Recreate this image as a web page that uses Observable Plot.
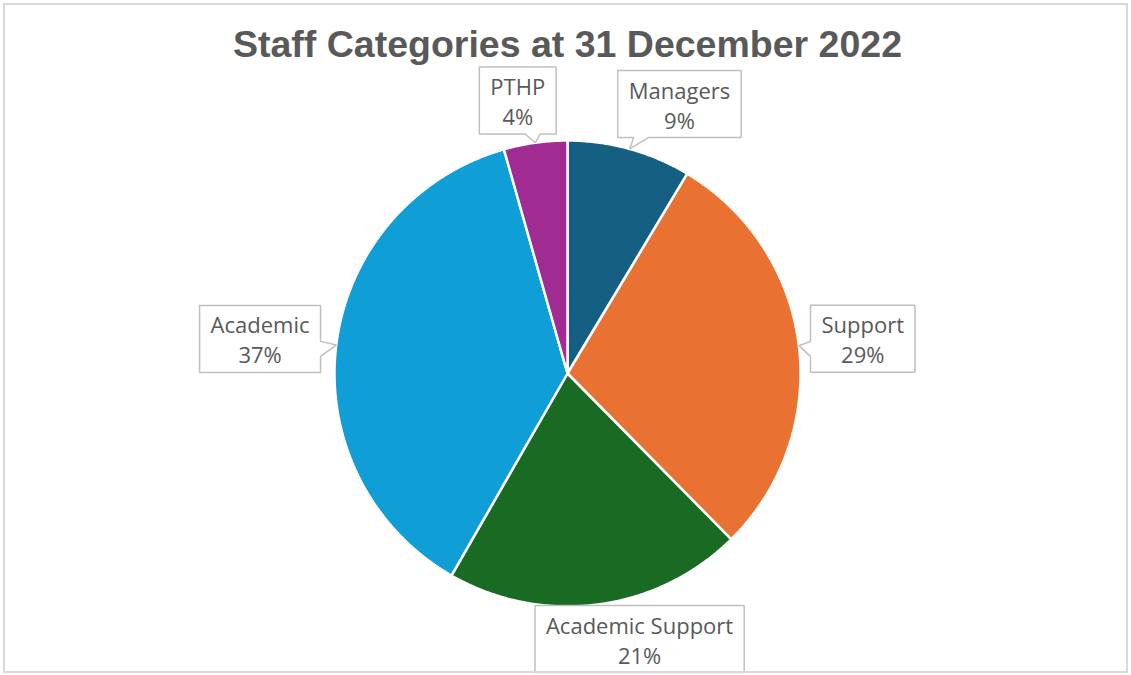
<!DOCTYPE html>
<html>
<head>
<meta charset="utf-8">
<script src="https://cdn.jsdelivr.net/npm/d3@7"></script>
<script src="https://cdn.jsdelivr.net/npm/@observablehq/plot@0.6"></script>
<style>
  body { margin: 0; background: #ffffff; }
  #frame { position: relative; width: 1131px; height: 675px; overflow: hidden; background: #ffffff; }
  #title { height: 60px; box-sizing: border-box; padding-top: 26px; padding-left: 4px; line-height: 37.5px;
           text-align: center; white-space: nowrap; font-family: "Liberation Sans", Arial, sans-serif;
           font-weight: bold; font-size: 37.5px; color: #595959; }
  #border { position: absolute; left: 3px; top: 3px; width: 1125px; height: 670px; box-sizing: border-box;
            border: 2px solid #d9d9d9; pointer-events: none; }
  svg { display: block; }
</style>
</head>
<body>
<div id="frame">
  <div id="title">Staff Categories at 31 December 2022</div>
  <div id="chart"></div>
  <div id="border"></div>
</div>
<script>
// ---- data ----
const categories = ["Managers", "Support", "Academic Support", "Academic", "PTHP"];
const shares = [8.6, 29.0, 20.7, 37.3, 4.4];   // percent of staff
const colors = ["#156082", "#E97132", "#196B24", "#0F9ED5", "#A02B93"];

// ---- layout (pixels) ----
const W = 1131, H = 615;
const R = 233;                 // pie radius in px (1 data unit)
const CX = 567, CY = 313;      // pie centre inside the svg
const labelFont = "Open Sans";
const labelSize = 22;
const lineGap = 30;
const pad = 11, boxH = 67, gap = 12;
// manual label nudges (px) mimicking the original's hand-placed callouts
const nudges = {
  "Managers": [35, 8.5],
  "Support": [-2, 1],
  "Academic Support": [36, -13],
  "Academic": [-2, 3],
  "PTHP": [-11, 5.5]
};

const total = d3.sum(shares);
const slices = [];
let acc = 0;
categories.forEach((name, i) => {
  const a0 = acc / total * 2 * Math.PI;
  acc += shares[i];
  const a1 = acc / total * 2 * Math.PI;
  slices.push({name, value: shares[i], a0, a1, mid: (a0 + a1) / 2});
});

// slice polygons in data units (radius 1, y up), angle clockwise from 12 o'clock
const slicePts = [];
for (const s of slices) {
  slicePts.push({name: s.name, x: 0, y: 0});
  const n = Math.max(2, Math.ceil((s.a1 - s.a0) / (Math.PI / 360)));
  for (let k = 0; k <= n; k++) {
    const a = s.a0 + (s.a1 - s.a0) * k / n;
    slicePts.push({name: s.name, x: Math.sin(a), y: Math.cos(a)});
  }
  slicePts.push({name: s.name, x: 0, y: 0});
}

// text measurement
const ctx = document.createElement("canvas").getContext("2d");
ctx.font = `${labelSize}px "${labelFont}"`;

function placeBox(theta, w, h) {
  const dx = Math.sin(theta), dy = -Math.cos(theta);
  let lo = 0, hi = 2000;
  for (let it = 0; it < 60; it++) {
    const t = (lo + hi) / 2;
    const cx = t * dx, cy = t * dy;
    const nx = Math.max(cx - w / 2, Math.min(0, cx + w / 2));
    const ny = Math.max(cy - h / 2, Math.min(0, cy + h / 2));
    if (Math.hypot(nx, ny) < R + gap) lo = t; else hi = t;
  }
  return [hi * dx, hi * dy];
}

const boxPts = [];
const labels = [];
for (const s of slices) {
  const pct = Math.round(s.value / total * 100) + "%";
  const tw = Math.max(ctx.measureText(s.name).width, ctx.measureText(pct).width);
  const w = tw + 2 * pad, h = boxH;
  let [cx, cy] = placeBox(s.mid, w, h);
  const nd = nudges[s.name] || [0, 0];
  cx += nd[0]; cy += nd[1];
  const x0 = cx - w / 2, x1 = cx + w / 2, y0 = cy - h / 2, y1 = cy + h / 2;
  const tx = R * Math.sin(s.mid), ty = -R * Math.cos(s.mid);
  const clamp = (v, a, b) => Math.max(a, Math.min(b, v));
  let poly;
  const far = 4;
  if (ty > y1 + far) {
    const b = clamp(tx, x0 + 16, x1 - 31);
    poly = [[x0, y0], [x1, y0], [x1, y1], [b + 15, y1], [tx, ty], [b, y1], [x0, y1], [x0, y0]];
  } else if (ty < y0 - far) {
    const b = clamp(tx, x0 + 16, x1 - 31);
    poly = [[x0, y0], [b, y0], [tx, ty], [b + 15, y0], [x1, y0], [x1, y1], [x0, y1], [x0, y0]];
  } else if (tx < x0 - far) {
    const b = clamp(ty, y0 + 16, y1 - 31);
    poly = [[x0, y0], [x1, y0], [x1, y1], [x0, y1], [x0, b + 15], [tx, ty], [x0, b], [x0, y0]];
  } else if (tx > x1 + far) {
    const b = clamp(ty, y0 + 16, y1 - 31);
    poly = [[x0, y0], [x1, y0], [x1, b], [tx, ty], [x1, b + 15], [x1, y1], [x0, y1], [x0, y0]];
  } else {
    poly = [[x0, y0], [x1, y0], [x1, y1], [x0, y1], [x0, y0]];
  }
  for (const [px, py] of poly) boxPts.push({name: s.name, x: px / R, y: -py / R});
  labels.push({name: s.name, text: s.name + "\n" + pct, x: cx / R, y: -cy / R});
}

const chart = Plot.plot({
  width: W,
  height: H,
  margin: 0,
  axis: null,
  x: {domain: [-CX / R, (W - CX) / R], range: [0, W]},
  y: {domain: [-(H - CY) / R, CY / R], range: [H, 0]},
  color: {domain: categories, range: colors},
  style: {background: "white", overflow: "visible"},
  marks: [
    Plot.line(slicePts, {x: "x", y: "y", z: "name", fill: "name", stroke: "white", strokeWidth: 2.5, strokeLinejoin: "round"}),
    Plot.line(boxPts, {x: "x", y: "y", z: "name", fill: "white", stroke: "#bfbfbf", strokeWidth: 1.5, strokeLinejoin: "miter"}),
    Plot.text(labels, {x: "x", y: "y", text: "text", fill: "#595959", fontSize: labelSize, fontFamily: labelFont, lineHeight: lineGap / labelSize})
  ]
});
document.getElementById("chart").appendChild(chart);
</script>
</body>
</html>
